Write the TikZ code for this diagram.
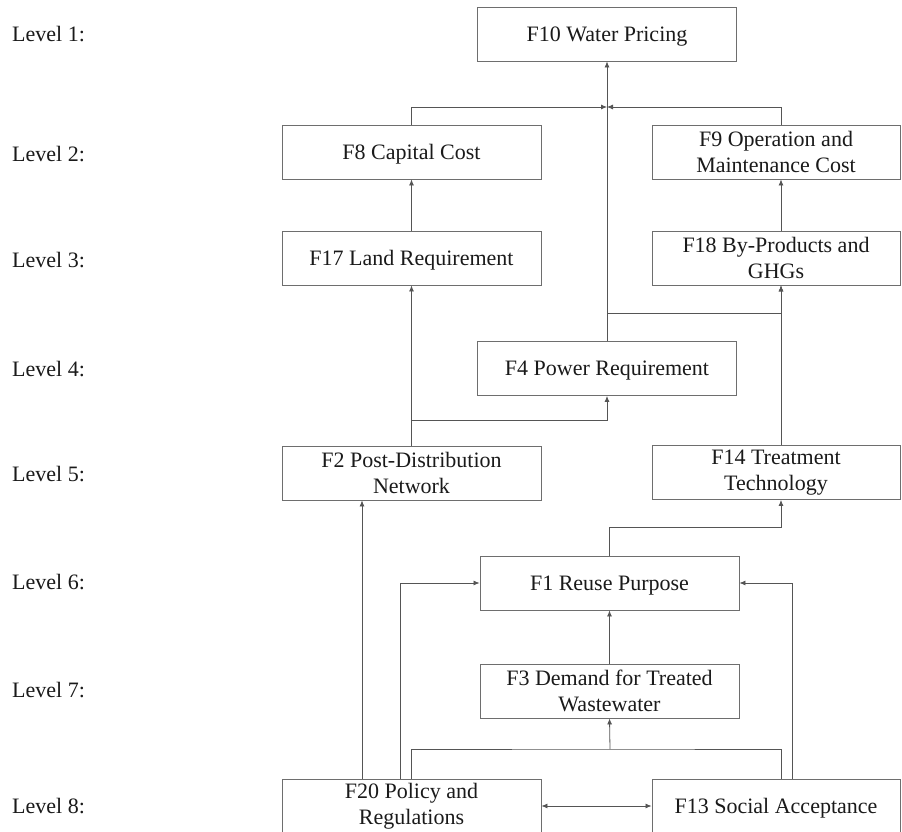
\documentclass[tikz,border=0pt]{standalone}
\usepackage{fontspec}
\setmainfont{Liberation Serif}
\usetikzlibrary{arrows.meta,calc}
\definecolor{boxline}{HTML}{6E6E6E}
\definecolor{conn}{HTML}{555555}
\definecolor{txt}{HTML}{1A1A1A}
\tikzset{
  fbox/.style={draw=boxline, line width=0.9pt, inner sep=0pt, align=center,
    minimum height=54pt, text=txt, font=\fontsize{22}{26}\selectfont},
  one/.style={text height=17pt, text depth=2.4pt},
  widebox/.style={fbox, minimum width=259pt},
  rbox/.style={fbox, minimum width=248pt},
  lvl/.style={anchor=west, inner sep=0pt, text=txt, font=\fontsize{22}{26}\selectfont},
  arr/.style={draw=conn, line width=0.8pt, -{Latex[length=6pt,width=5pt]}},
  darr/.style={draw=conn, line width=0.8pt, {Latex[length=6pt,width=5pt]}-{Latex[length=6pt,width=5pt]}},
  ln/.style={draw=conn, line width=0.8pt},
}
\begin{document}
\begin{tikzpicture}[x=1pt,y=-1pt]
\useasboundingbox (0,0) rectangle (902,832);
\fill[white] (0,0) rectangle (902,832);

% level labels
\node[lvl] (l1) at (12,34) {Level 1:};
\node[lvl] (l2) at (12,154) {Level 2:};
\node[lvl] (l3) at (12,260) {Level 3:};
\node[lvl] (l4) at (12,369) {Level 4:};
\node[lvl] (l5) at (12,474) {Level 5:};
\node[lvl] (l6) at (12,582) {Level 6:};
\node[lvl] (l7) at (12,690) {Level 7:};
\node[lvl] (l8) at (12,806) {Level 8:};

% boxes
\node[widebox, one] (f10) at (607,34) {F10 Water Pricing};
\node[widebox, one] (f8) at (411.5,152) {F8 Capital Cost};
\node[rbox] (f9) at (776,152) {F9 Operation and\\Maintenance Cost};
\node[widebox, one] (f17) at (411.5,258) {F17 Land Requirement};
\node[rbox] (f18) at (776,258) {F18 By-Products and\\GHGs};
\node[widebox, one] (f4) at (607,368.5) {F4 Power Requirement};
\node[widebox] (f2) at (411.5,473) {F2 Post-Distribution\\Network};
\node[rbox] (f14) at (776,472.5) {F14 Treatment\\Technology};
\node[widebox, one] (f1) at (609.5,583) {F1 Reuse Purpose};
\node[widebox] (f3) at (609.5,691) {F3 Demand for Treated\\Wastewater};
\node[widebox] (f20) at (411.5,806) {F20 Policy and\\Regulations};
\node[rbox, one] (f13) at (776,806) {F13 Social Acceptance};

% junction points
\coordinate (j1) at (607,107);
\coordinate (j2) at (781,313);
\coordinate (j3) at (412,420);
\coordinate (j4) at (781,527);
\coordinate (j5) at (610,749);

% connectors
\draw[arr] (f4.north) -- (f4.north |- f10.south);
\draw[arr] (f8.north) |- (j1);
\draw[arr] (f9.north -| j2) |- (j1);
\draw[arr] (f17.north) -- (f8.south);
\draw[arr] (f18.north -| j2) -- (f9.south -| j2);
\draw[arr] (f2.north) -- (f17.south);
\draw[arr] (j3) -| (f4.south);
\draw[arr] (f4.north |- j2) -| (f18.south -| j2);
\draw[arr] (f14.north -| j2) -- (f18.south -| j2);
\draw[arr] (f1.north) |- (j4) -- (f14.south -| j4);
\draw[arr] (f3.north) -- (f1.south);
\draw[arr] ($(f20.north)+(-49.5,0)$) -- ($(f2.south)+(-49.5,0)$);
\draw[arr] ($(f20.north)+(-11.5,0)$) |- (f1.west);
\draw[arr] ($(f13.north)+(16,0)$) |- (f1.east);
\draw[ln] (f20.north) |- (j5) -| (f13.north -| j2);
\draw[arr] (j5) -- (f3.south);
\draw[darr] (f20.east) -- (f13.west);
\end{tikzpicture}
\end{document}
